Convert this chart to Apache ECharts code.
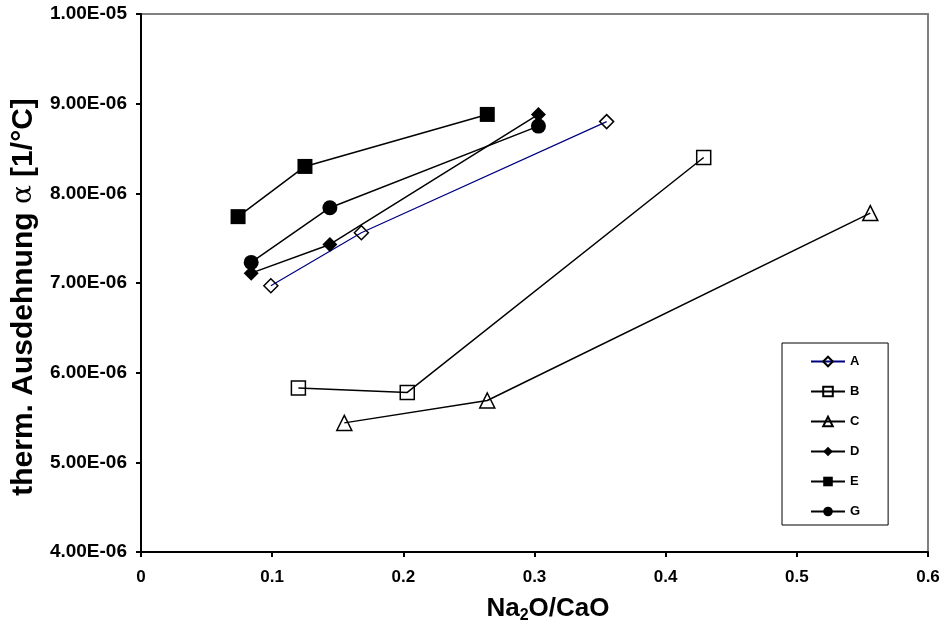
<!DOCTYPE html>
<html>
<head>
<meta charset="utf-8">
<script src="https://cdn.jsdelivr.net/npm/echarts@6/dist/echarts.min.js"></script>
<style>
  html, body { margin: 0; padding: 0; background: #fff; }
  #chart { width: 944px; height: 628px; }
</style>
</head>
<body>
<div id="chart"></div>
<script>
// Thermal expansion coefficient vs. Na2O/CaO ratio for glass series A–G
const seriesNames = ['A', 'B', 'C', 'D', 'E', 'G'];

const ratioA = [0.099, 0.168, 0.355];
const alphaA = [6.97e-6, 7.56e-6, 8.80e-6];

const ratioB = [0.120, 0.203, 0.429];
const alphaB = [5.83e-6, 5.78e-6, 8.40e-6];

const ratioC = [0.155, 0.264, 0.556];
const alphaC = [5.44e-6, 5.69e-6, 7.78e-6];

const ratioD = [0.084, 0.144, 0.303];
const alphaD = [7.11e-6, 7.43e-6, 8.88e-6];

const ratioE = [0.074, 0.125, 0.264];
const alphaE = [7.74e-6, 8.30e-6, 8.88e-6];

const ratioG = [0.084, 0.144, 0.303];
const alphaG = [7.23e-6, 7.84e-6, 8.75e-6];

const xTickLabels = ['0', '0.1', '0.2', '0.3', '0.4', '0.5', '0.6'];
const yTickLabels = ['4.00E-06', '5.00E-06', '6.00E-06', '7.00E-06', '8.00E-06', '9.00E-06', '1.00E-05'];

const FONT = '"Liberation Sans", Arial, sans-serif';

function pairs(xs, ys) {
  return xs.map((x, i) => [x, ys[i]]);
}

const openMarker = { color: 'rgba(255,255,255,0)', borderColor: '#000', borderWidth: 1.5 };
const filledMarker = { color: '#000', borderColor: '#000', borderWidth: 0 };

const styles = {
  A: { symbol: 'diamond', size: 14, line: '#000080', width: 1.2, item: openMarker },
  B: { symbol: 'rect', size: 14, line: '#000', width: 1.5, item: openMarker },
  C: { symbol: 'triangle', size: 15, line: '#000', width: 1.5, item: openMarker },
  D: { symbol: 'diamond', size: 15, line: '#000', width: 1.5, item: filledMarker },
  E: { symbol: 'rect', size: 15, line: '#000', width: 1.5, item: filledMarker },
  G: { symbol: 'circle', size: 15, line: '#000', width: 1.5, item: filledMarker }
};

const dataByName = {
  A: pairs(ratioA, alphaA),
  B: pairs(ratioB, alphaB),
  C: pairs(ratioC, alphaC),
  D: pairs(ratioD, alphaD),
  E: pairs(ratioE, alphaE),
  G: pairs(ratioG, alphaG)
};

const series = seriesNames.map(name => {
  const s = styles[name];
  return {
    name: name,
    type: 'line',
    data: dataByName[name],
    symbol: s.symbol,
    symbolSize: s.size,
    showAllSymbol: true,
    lineStyle: { color: s.line, width: s.width },
    itemStyle: Object.assign({}, s.item),
    emphasis: { disabled: true },
    animation: false
  };
});

const chart = echarts.init(document.getElementById('chart'), null, { renderer: 'canvas' });

chart.setOption({
  backgroundColor: '#fff',
  animation: false,
  grid: {
    left: 141, right: 16, top: 14, bottom: 76,
    show: true,
    borderColor: '#808080',
    borderWidth: 2,
    outerBoundsMode: 'none',
    containLabel: false
  },
  legend: {
    orient: 'vertical',
    left: 782,
    top: 343,
    padding: [12, 28, 7, 28],
    itemWidth: 34,
    itemHeight: 12,
    itemGap: 17,
    backgroundColor: '#fff',
    borderColor: '#000',
    borderWidth: 1,
    borderRadius: 0,
    selectedMode: false,
    textStyle: { fontFamily: FONT, fontWeight: 'bold', fontSize: 13, color: '#000' },
    data: seriesNames
  },
  xAxis: {
    type: 'value',
    min: 0,
    max: 0.6,
    interval: 0.1,
    name: 'Na{sub|2}O/CaO',
    nameLocation: 'middle',
    nameGap: 42,
    nameTextStyle: {
      fontFamily: FONT, fontWeight: 'bold', fontSize: 26, color: '#000', lineHeight: 30,
      padding: [0, 0, 0, 27],
      rich: {
        sub: { fontFamily: FONT, fontWeight: 'bold', fontSize: 16, color: '#000', lineHeight: 16, verticalAlign: 'bottom' }
      }
    },
    axisLine: { show: true, onZero: false, lineStyle: { color: '#000', width: 2 } },
    axisTick: { show: true, inside: false, length: 5, lineStyle: { color: '#000', width: 2 } },
    axisLabel: {
      margin: 17,
      fontFamily: FONT, fontWeight: 'bold', fontSize: 17, color: '#000',
      formatter: (v) => xTickLabels[Math.round(v / 0.1)]
    },
    splitLine: { show: false }
  },
  yAxis: {
    type: 'value',
    min: 4e-6,
    max: 1e-5,
    interval: 1e-6,
    name: 'therm. Ausdehnung {a|α} [1/°C]',
    nameLocation: 'middle',
    nameGap: 97,
    nameTextStyle: {
      fontFamily: FONT, fontWeight: 'bold', fontSize: 30, color: '#000',
      padding: [0, 28, 0, 0],
      rich: {
        a: { fontFamily: '"DejaVu Serif", serif', fontWeight: 'normal', fontSize: 28, color: '#000' }
      }
    },
    axisLine: { show: true, onZero: false, lineStyle: { color: '#000', width: 2 } },
    axisTick: { show: true, inside: false, length: 5, lineStyle: { color: '#000', width: 2 } },
    axisLabel: {
      margin: 14,
      fontFamily: FONT, fontWeight: 'bold', fontSize: 19, color: '#000',
      formatter: (v) => yTickLabels[Math.round((v - 4e-6) / 1e-6)]
    },
    splitLine: { show: false }
  },
  series: series
});
</script>
</body>
</html>
